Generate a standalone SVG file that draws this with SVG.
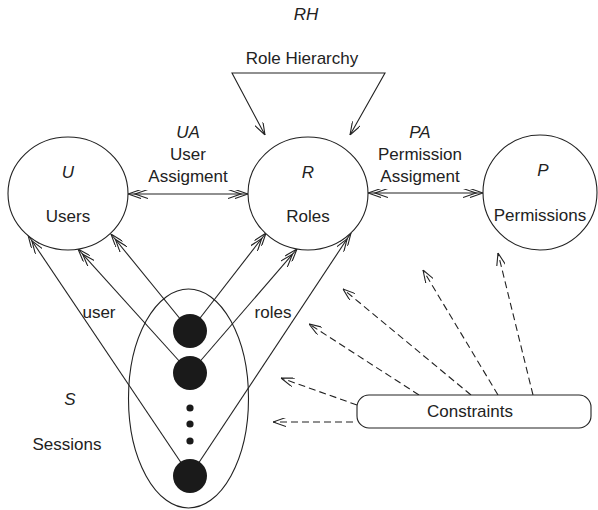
<svg xmlns="http://www.w3.org/2000/svg" width="598" height="510" viewBox="0 0 598 510">
  <style>
    text { font-family: "Liberation Sans", Arial, sans-serif; font-size: 17px; fill: #222; text-anchor: middle; }
    .it { font-style: italic; }
    .node { fill: #fff; stroke: #222; stroke-width: 1.1; }
    .edge { fill: none; stroke: #222; stroke-width: 1.1; }
    .dash { stroke-dasharray: 7 4; }
    .dot { fill: #1a1a1a; stroke: none; }
  </style>
  <defs>
    <!-- single open chevron -->
    <marker id="head" viewBox="0 0 13 9" refX="13" refY="4.5" markerWidth="13" markerHeight="9" markerUnits="userSpaceOnUse" orient="auto-start-reverse">
      <path d="M0,0 L13,4.5 L0,9" fill="none" stroke="#222" stroke-width="1.1"/>
    </marker>
    <!-- double open chevron (many) -->
    <marker id="head2" viewBox="0 0 20 9" refX="20" refY="4.5" markerWidth="20" markerHeight="9" markerUnits="userSpaceOnUse" orient="auto-start-reverse">
      <path d="M0,0 L13,4.5 L0,9 M7,0 L20,4.5 L7,9" fill="none" stroke="#222" stroke-width="1.1"/>
    </marker>
  </defs>

  <!-- connectors -->
  <g id="connectors">
    <!-- role hierarchy bracket -->
    <polyline class="edge" points="265,135 232,73 385,73 350,135" marker-start="url(#head)" marker-end="url(#head)"/>
    <!-- user assignment / permission assignment -->
    <line class="edge" x1="128" y1="194" x2="248" y2="194" marker-start="url(#head2)" marker-end="url(#head2)"/>
    <line class="edge" x1="368" y1="193" x2="483" y2="193" marker-start="url(#head2)" marker-end="url(#head2)"/>
    <!-- session to user -->
    <line class="edge" x1="190" y1="331" x2="111" y2="234" marker-end="url(#head2)"/>
    <line class="edge" x1="190" y1="373" x2="78" y2="249" marker-end="url(#head2)"/>
    <line class="edge" x1="190" y1="476" x2="28" y2="235" marker-end="url(#head2)"/>
    <!-- session to roles -->
    <line class="edge" x1="190" y1="331" x2="266" y2="233" marker-end="url(#head2)"/>
    <line class="edge" x1="190" y1="373" x2="297" y2="249" marker-end="url(#head2)"/>
    <line class="edge" x1="190" y1="476" x2="351" y2="233" marker-end="url(#head2)"/>
    <!-- constraints -->
    <line class="edge dash" x1="353" y1="422" x2="273" y2="422" marker-end="url(#head)"/>
    <line class="edge dash" x1="357" y1="405" x2="281" y2="378" marker-end="url(#head)"/>
    <line class="edge dash" x1="419" y1="395" x2="309" y2="324" marker-end="url(#head)"/>
    <line class="edge dash" x1="471" y1="395" x2="343" y2="289" marker-end="url(#head)"/>
    <line class="edge dash" x1="498" y1="395" x2="423" y2="270" marker-end="url(#head)"/>
    <line class="edge dash" x1="533" y1="395" x2="498" y2="253" marker-end="url(#head)"/>
  </g>

  <!-- labels on connectors -->
  <g id="edge-labels">
    <text x="306" y="20" class="it">RH</text>
    <text x="302" y="64">Role Hierarchy</text>
    <text x="188" y="138" class="it">UA</text>
    <text x="188" y="160">User</text>
    <text x="188" y="182">Assigment</text>
    <text x="420" y="138" class="it">PA</text>
    <text x="420" y="160">Permission</text>
    <text x="420" y="182">Assigment</text>
    <text x="99" y="318">user</text>
    <text x="273" y="318">roles</text>
  </g>

  <g id="users">
    <ellipse class="node" cx="68" cy="193.5" rx="60" ry="56.5"/>
    <text x="68" y="178" class="it">U</text>
    <text x="68" y="222">Users</text>
  </g>

  <g id="roles">
    <ellipse class="node" cx="308" cy="193.5" rx="60" ry="56.5"/>
    <text x="308" y="178" class="it">R</text>
    <text x="308" y="222">Roles</text>
  </g>

  <g id="permissions">
    <ellipse class="node" cx="540" cy="192.5" rx="57" ry="57.5"/>
    <text x="543" y="176" class="it">P</text>
    <text x="540" y="221">Permissions</text>
  </g>

  <g id="sessions">
    <ellipse class="edge" cx="188.5" cy="398.5" rx="60" ry="109.5"/>
    <circle class="dot" cx="190" cy="331" r="17"/>
    <circle class="dot" cx="190" cy="373" r="17"/>
    <circle class="dot" cx="190" cy="408" r="3.6"/>
    <circle class="dot" cx="190" cy="424" r="3.6"/>
    <circle class="dot" cx="190" cy="441" r="3.6"/>
    <circle class="dot" cx="190" cy="476" r="17"/>
    <text x="70" y="405" class="it">S</text>
    <text x="67" y="450">Sessions</text>
  </g>

  <g id="constraints">
    <rect class="node" x="357" y="395" width="234" height="33" rx="12" ry="12"/>
    <text x="470" y="417">Constraints</text>
  </g>
</svg>
